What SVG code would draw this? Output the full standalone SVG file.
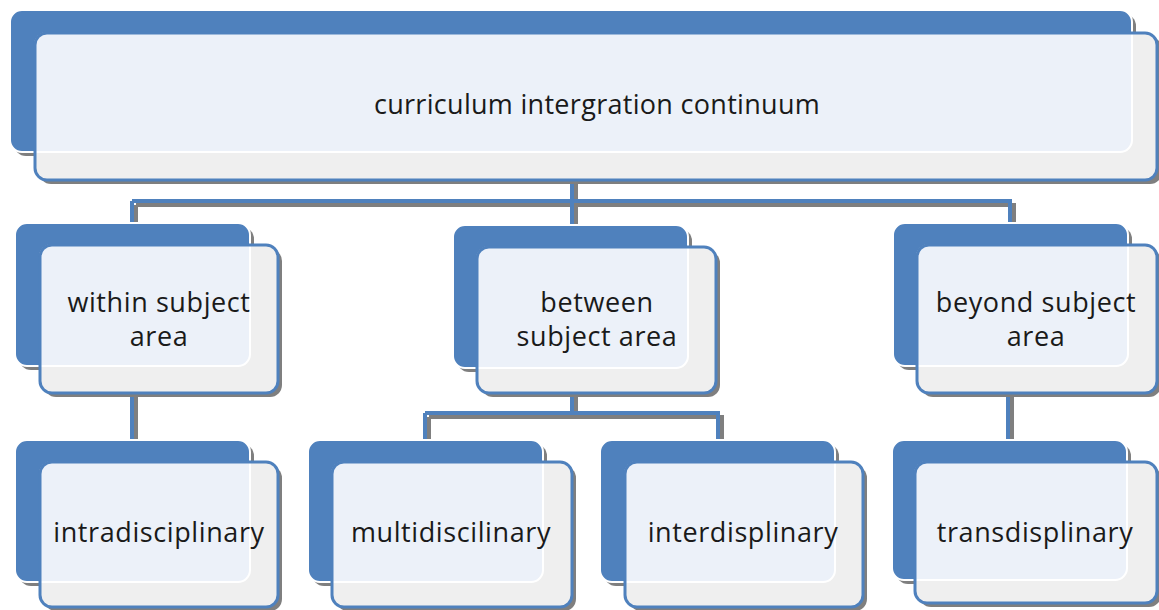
<svg xmlns="http://www.w3.org/2000/svg" width="1159" height="610" viewBox="0 0 1159 610">
<style>
.sh{fill:#7f7f7f}
.back{fill:#4F81BD;stroke:#ffffff;stroke-width:2}
.front{fill:#EFEFEF}
.ov{fill:#ECF1F9;stroke:#ffffff;stroke-width:2}
.fo{fill:none;stroke:#4F81BD;stroke-width:3}
.t{font-family:"Open Sans","Liberation Sans",sans-serif;font-size:27px;letter-spacing:0.6px;fill:#1a1a1a;text-anchor:middle}
.cs{fill:none;stroke:#7f7f7f;stroke-width:4}
.c{fill:none;stroke:#4F81BD;stroke-width:4}
</style>
<rect width="1159" height="610" fill="#ffffff"/>
<g id="connectors">
<path class="cs" d="M576,184 V229 M136,205 H1014 V226 M136,205 V226 M136,397 V444 M1012,397 V444 M576,397 V417 M429,417 H722 V444 M429,417 V444"/>
<path class="c" d="M572,180 V225 M132,201 H1010 V222 M132,201 V222 M132,393 V440 M1008,393 V440 M572,393 V413 M425,413 H718 V440 M425,413 V440"/>
</g>
<g id="n-top">
<rect class="sh" x="14" y="14" width="1122" height="142" rx="12"/>
<rect class="back" x="10" y="10" width="1122" height="142" rx="12"/>
<rect class="sh" x="39" y="37" width="1123" height="147" rx="12"/>
<rect class="front" x="35" y="33" width="1122" height="147" rx="12"/>
<path class="ov" d="M47,33 H1132 V140 A12,12 0 0 1 1120,152 H35 V45 A12,12 0 0 1 47,33 Z"/>
<rect class="fo" x="35" y="33" width="1122" height="147" rx="12"/>
<text class="t" x="597" y="114" style="letter-spacing:0.3px">curriculum intergration continuum</text>
</g>
<g id="n-within">
<rect class="sh" x="19" y="227" width="235" height="143" rx="12"/>
<rect class="back" x="15" y="223" width="235" height="143" rx="12"/>
<rect class="sh" x="44" y="249" width="238" height="148" rx="12"/>
<rect class="front" x="40" y="245" width="238" height="148" rx="12"/>
<path class="ov" d="M52,245 H250 V354 A12,12 0 0 1 238,366 H40 V257 A12,12 0 0 1 52,245 Z"/>
<rect class="fo" x="40" y="245" width="238" height="148" rx="12"/>
<text class="t" x="159" y="312">within subject</text>
<text class="t" x="159" y="346">area</text>
</g>
<g id="n-between">
<rect class="sh" x="457" y="229" width="235" height="143" rx="12"/>
<rect class="back" x="453" y="225" width="235" height="143" rx="12"/>
<rect class="sh" x="481" y="251" width="239" height="146" rx="12"/>
<rect class="front" x="477" y="247" width="239" height="146" rx="12"/>
<path class="ov" d="M489,247 H688 V356 A12,12 0 0 1 676,368 H477 V259 A12,12 0 0 1 489,247 Z"/>
<rect class="fo" x="477" y="247" width="239" height="146" rx="12"/>
<text class="t" x="597" y="312">between</text>
<text class="t" x="597" y="346">subject area</text>
</g>
<g id="n-beyond">
<rect class="sh" x="897" y="227" width="235" height="143" rx="12"/>
<rect class="back" x="893" y="223" width="235" height="143" rx="12"/>
<rect class="sh" x="921" y="249" width="240" height="148" rx="12"/>
<rect class="front" x="917" y="245" width="240" height="148" rx="12"/>
<path class="ov" d="M929,245 H1128 V354 A12,12 0 0 1 1116,366 H917 V257 A12,12 0 0 1 929,245 Z"/>
<rect class="fo" x="917" y="245" width="240" height="148" rx="12"/>
<text class="t" x="1036" y="312">beyond subject</text>
<text class="t" x="1036" y="346">area</text>
</g>
<g id="n-intra">
<rect class="sh" x="19" y="444" width="235" height="142" rx="12"/>
<rect class="back" x="15" y="440" width="235" height="142" rx="12"/>
<rect class="sh" x="44" y="466" width="238" height="145" rx="12"/>
<rect class="front" x="40" y="462" width="238" height="145" rx="12"/>
<path class="ov" d="M52,462 H250 V570 A12,12 0 0 1 238,582 H40 V474 A12,12 0 0 1 52,462 Z"/>
<rect class="fo" x="40" y="462" width="238" height="145" rx="12"/>
<text class="t" x="159" y="542">intradisciplinary</text>
</g>
<g id="n-multi">
<rect class="sh" x="312" y="444" width="235" height="142" rx="12"/>
<rect class="back" x="308" y="440" width="235" height="142" rx="12"/>
<rect class="sh" x="336" y="466" width="240" height="145" rx="12"/>
<rect class="front" x="332" y="462" width="240" height="145" rx="12"/>
<path class="ov" d="M344,462 H543 V570 A12,12 0 0 1 531,582 H332 V474 A12,12 0 0 1 344,462 Z"/>
<rect class="fo" x="332" y="462" width="240" height="145" rx="12"/>
<text class="t" x="451" y="542">multidiscilinary</text>
</g>
<g id="n-inter">
<rect class="sh" x="604" y="444" width="235" height="142" rx="12"/>
<rect class="back" x="600" y="440" width="235" height="142" rx="12"/>
<rect class="sh" x="629" y="466" width="238" height="145" rx="12"/>
<rect class="front" x="625" y="462" width="238" height="145" rx="12"/>
<path class="ov" d="M637,462 H835 V570 A12,12 0 0 1 823,582 H625 V474 A12,12 0 0 1 637,462 Z"/>
<rect class="fo" x="625" y="462" width="238" height="145" rx="12"/>
<text class="t" x="743" y="542">interdisplinary</text>
</g>
<g id="n-trans">
<rect class="sh" x="896" y="444" width="235" height="140" rx="12"/>
<rect class="back" x="892" y="440" width="235" height="140" rx="12"/>
<rect class="sh" x="919" y="466" width="242" height="141" rx="12"/>
<rect class="front" x="915" y="462" width="242" height="141" rx="12"/>
<path class="ov" d="M927,462 H1127 V568 A12,12 0 0 1 1115,580 H915 V474 A12,12 0 0 1 927,462 Z"/>
<rect class="fo" x="915" y="462" width="242" height="141" rx="12"/>
<text class="t" x="1035" y="542">transdisplinary</text>
</g>
</svg>
